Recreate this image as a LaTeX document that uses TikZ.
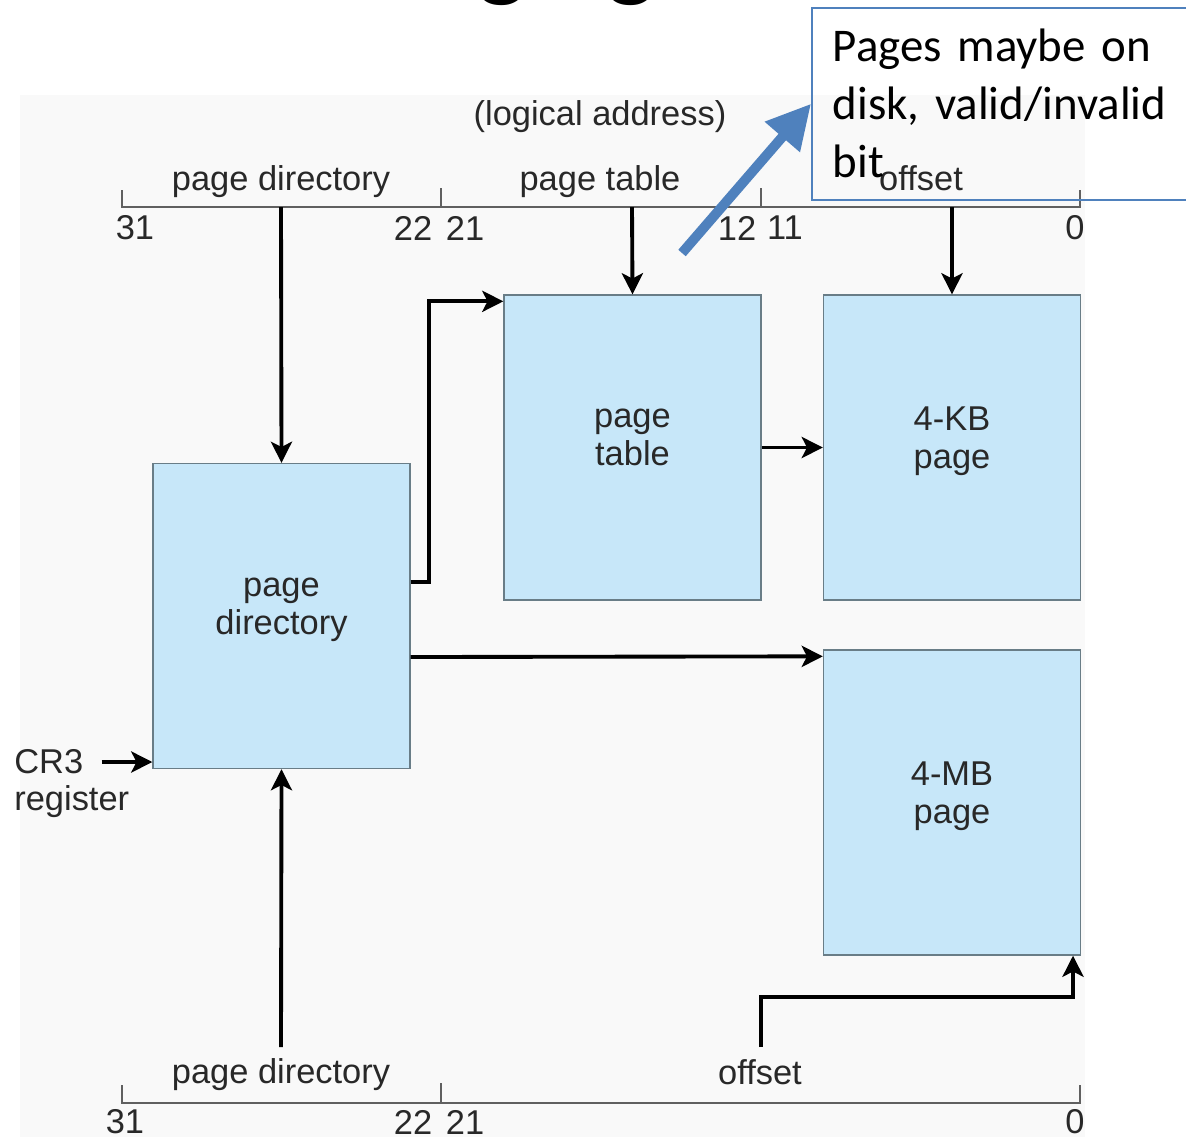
\documentclass[tikz,border=0pt]{standalone}
\usepackage{fontspec}
\setmainfont{Liberation Sans}
\newfontfamily\calibri{Carlito}
\usetikzlibrary{arrows.meta}
\definecolor{boxblue}{RGB}{199,231,249}
\definecolor{boxline}{RGB}{105,125,135}
\definecolor{noteblue}{RGB}{79,129,189}
\definecolor{figbg}{RGB}{249,249,249}
\definecolor{labelgray}{RGB}{40,40,40}

\begin{document}
\begin{tikzpicture}[x=0.02cm, y=-0.02cm,
      membox/.style={rectangle, draw=boxline, line width=0.8pt, fill=boxblue, minimum width=5.14cm, minimum height=6.1cm, text depth=0.4cm, align=center, font=\fontsize{19.6}{21.5}\selectfont, text=labelgray},
      label/.style={font=\fontsize{19.6}{21}\selectfont, text=labelgray, inner sep=0pt},
      ruler/.style={draw=gray!75!black, line width=1.1pt},
      arrow/.style={->, line width=2.2pt, >={Stealth[length=12pt,width=12pt,inset=3pt]}},
      note/.style={rectangle, draw=noteblue, line width=0.9pt, anchor=north west, minimum height=3.84cm, inner xsep=0.42cm, text width=7.1cm, align=left, font=\calibri\fontsize{26.7}{33}\selectfont},
      notearrow/.style={->, draw=noteblue, line width=5.6pt, >={Triangle[length=25pt,width=25pt]}}
    ]
      \useasboundingbox (0,0) rectangle (1186,1137);
      \clip (0,0) rectangle (1186,1137);
      \fill[figbg] (20,95) rectangle (1085,1137);

      % cut-off slide title
      \node[font=\calibri\fontsize{60}{60}\selectfont, anchor=base west, inner sep=0pt] (title) at (374,-13) {Paging};

      % logical address, top
      \node[label] (logaddr) at (600,117) {(logical address)};
      \draw[ruler] (122,190) -- (122,207) -- (1080,207) -- (1080,190);
      \foreach \x in {441,761} \draw[ruler] (\x,188) -- (\x,207);
      \node[label] (toppd)  at (281,182) {page directory};
      \node[label] (toppt)  at (600,182) {page table};
      \node[label] (topoff) at (921,178) {offset};
      \node[label] (t31) at (135,228) {31};
      \node[label] (t22) at (413,228) {22};
      \node[label] (t21) at (465,228) {21};
      \node[label] (t12) at (737,228) {12};
      \node[label] (t11) at (785,228) {11};
      \node[label] (t0)  at (1075,228) {0};
      \coordinate (pdbit)  at (281,207);
      \coordinate (ptbit)  at (632,207);
      \coordinate (offbit) at (952,207);

      % tables and pages
      \node[membox] (pdir)   at (281.5,616)  {page\\directory};
      \node[membox] (ptab)   at (632.5,447.5) {page\\table};
      \node[membox] (kbpage) at (952,447.5)  {4-KB\\page};
      \node[membox] (mbpage) at (952,802.5)  {4-MB\\page};

      \node[label, anchor=west] (cr3) at (14,762) {CR3};
      \node[label, anchor=west] (reg) at (14,802) {register};

      % logical address, bottom
      \draw[ruler] (122,1085) -- (122,1103) -- (1080,1103) -- (1080,1085);
      \draw[ruler] (441,1083) -- (441,1103);
      \node[label] (botpd)  at (281,1075) {page directory};
      \node[label] (botoff) at (760,1072) {offset};
      \node[label] (b31) at (125,1122) {31};
      \node[label] (b22) at (413,1122) {22};
      \node[label] (b21) at (465,1122) {21};
      \node[label] (b0)  at (1075,1122) {0};
      \coordinate (pdtail)  at (281,1047);
      \coordinate (offtail) at (761,1047);
      \coordinate (offbend) at (1073,997);

      \draw[arrow] (pdbit)  -- (pdir.north);
      \draw[arrow] (ptbit)  -- (ptab.north);
      \draw[arrow] (offbit) -- (kbpage.north);
      \draw[arrow] ([yshift=0.68cm]pdir.east) -- ++(18,0) |- ([yshift=-0.14cm]ptab.north west);
      \draw[arrow] (ptab.east) -- (kbpage.west);
      \draw[arrow] (pdir.east |- 0,657) -- ([yshift=-0.14cm]mbpage.north west);
      \draw[arrow] ([xshift=0.36cm]cr3.east) -- (cr3.east -| pdir.west);
      \draw[arrow] (pdtail) -- (pdir.south);
      \draw[arrow] (offtail) |- (offbend) -- (offbend |- mbpage.south);

      % callout
      \node[note] (callout) at (811,7) {Pages maybe on\\disk, valid/invalid\\bit};
      \coordinate (notetail) at (682,253);
      \draw[notearrow] (notetail) -- (callout.west);
    \end{tikzpicture}
\end{document}
